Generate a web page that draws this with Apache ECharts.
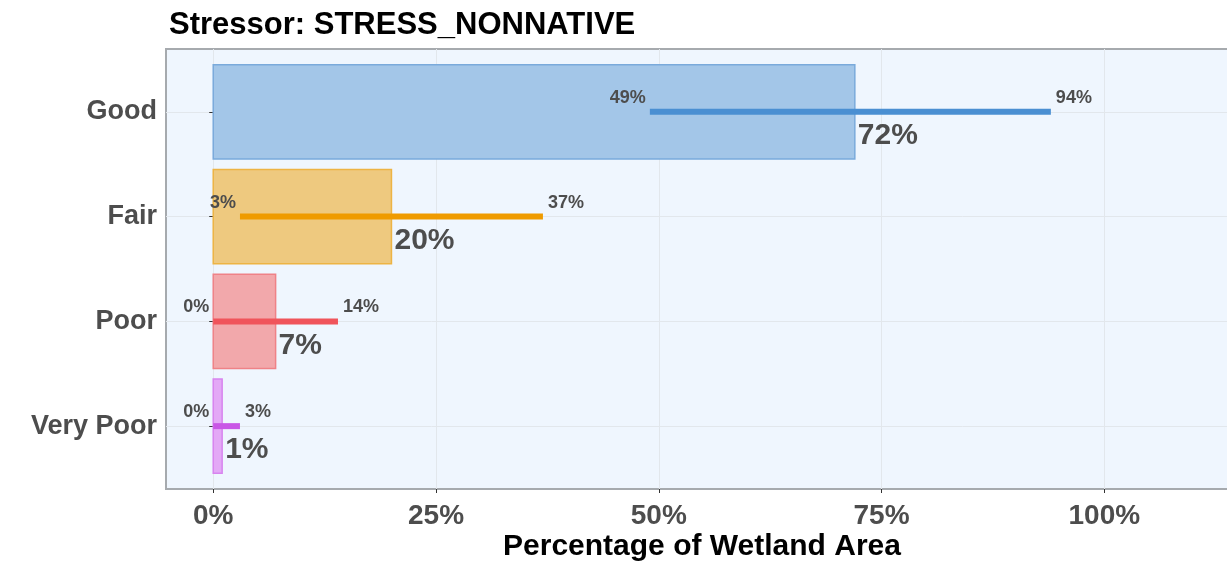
<!DOCTYPE html>
<html>
<head>
<meta charset="utf-8">
<title>Stressor: STRESS_NONNATIVE</title>
<script src="https://cdn.jsdelivr.net/npm/echarts@6/dist/echarts.min.js"></script>
<style>
  html, body { margin: 0; padding: 0; background: #ffffff; }
  #chart { width: 1227px; height: 561px; }
</style>
</head>
<body>
<div id="chart"></div>
<script>
// Condition classes, top to bottom
const categories = ['Good', 'Fair', 'Poor', 'Very Poor'];
// Estimated share of wetland area (%) and its confidence bounds
const estimate = [72, 20, 7, 1];
const lower = [49, 3, 0, 0];
const upper = [94, 37, 14, 3];
// Axis tick values (%)
const xTicks = [0, 25, 50, 75, 100];

// Per-class colours: confidence line, bar fill, bar outline
const lineColors = ['#4a8fd2', '#ef9b00', '#f0545b', '#c957e6'];
const fillColors = ['#a3c6e8', '#eec97f', '#f2a8ab', '#e3a9f6'];
const edgeColors = ['#7aaadb', '#edb444', '#ef8287', '#d884ef'];

const FONT = '"Liberation Sans", Arial, Helvetica, sans-serif';
const TEXT_GREY = '#4d4d4d';

// Category positions on the vertical scale: 1 = top row
const rows = categories.map((c, i) => [i + 1, estimate[i], lower[i], upper[i]]);

const chart = echarts.init(document.getElementById('chart'), null, { renderer: 'canvas' });

function barItem(params, api) {
  const pos = api.value(0);
  const est = api.value(1);
  const a = api.coord([0, pos]);
  const b = api.coord([est, pos]);
  const h = api.size([0, 0.9])[1];
  const i = params.dataIndex;
  return {
    type: 'rect',
    shape: { x: a[0], y: a[1] - h / 2, width: b[0] - a[0], height: h },
    style: { fill: fillColors[i], stroke: edgeColors[i], lineWidth: 1.5 }
  };
}

function ciItem(params, api) {
  const pos = api.value(0);
  const a = api.coord([api.value(2), pos]);
  const b = api.coord([api.value(3), pos]);
  const i = params.dataIndex;
  return {
    type: 'rect',
    shape: { x: a[0], y: a[1] - 3, width: b[0] - a[0], height: 6 },
    style: { fill: lineColors[i] }
  };
}

function labelItem(params, api) {
  const pos = api.value(0);
  const est = api.value(1), lo = api.value(2), hi = api.value(3);
  const pe = api.coord([est, pos]);
  const pl = api.coord([lo, pos]);
  const ph = api.coord([hi, pos]);
  const small = { fontFamily: FONT, fontWeight: 'bold', fontSize: 18, fill: TEXT_GREY };
  return {
    type: 'group',
    children: [
      {
        type: 'text',
        style: Object.assign({ text: lo + '%', x: pl[0] - 4, y: pl[1] - 14, align: 'right', verticalAlign: 'middle' }, small)
      },
      {
        type: 'text',
        style: Object.assign({ text: hi + '%', x: ph[0] + 5, y: ph[1] - 14, align: 'left', verticalAlign: 'middle' }, small)
      },
      {
        type: 'text',
        style: {
          text: est + '%', x: pe[0] + 3, y: pe[1] + 24, align: 'left', verticalAlign: 'middle',
          fontFamily: FONT, fontWeight: 'bold', fontSize: 30, fill: TEXT_GREY
        }
      }
    ]
  };
}

const option = {
  animation: false,
  backgroundColor: '#ffffff',
  title: {
    text: 'Stressor: STRESS_NONNATIVE',
    left: 164,
    top: 5,
    textStyle: { fontFamily: FONT, fontWeight: 'bold', fontSize: 31, color: '#000000' }
  },
  grid: {
    left: 166,
    top: 49,
    right: -11,
    bottom: 72,
    show: true,
    backgroundColor: '#eff6fe',
    borderColor: '#a6aaae',
    borderWidth: 2,
    containLabel: false,
    outerBoundsMode: 'none'
  },
  xAxis: {
    type: 'value',
    min: -5.3,
    max: 115,
    axisLine: { show: false },
    axisTick: { show: true, customValues: xTicks, length: 4, lineStyle: { color: '#333333', width: 1 } },
    axisLabel: {
      customValues: xTicks,
      formatter: v => v + '%',
      margin: 13,
      fontFamily: FONT, fontWeight: 'bold', fontSize: 28, color: TEXT_GREY
    },
    splitLine: { show: true, lineStyle: { color: '#e2e7ec', width: 1 } },
    name: 'Percentage of Wetland Area',
    nameLocation: 'middle',
    nameGap: 43,
    nameMoveOverlap: false,
    nameTextStyle: { fontFamily: FONT, fontWeight: 'bold', fontSize: 30, color: '#000000' }
  },
  yAxis: {
    type: 'value',
    inverse: true,
    min: 0.4,
    max: 4.6,
    axisLine: { show: false },
    axisTick: { show: true, customValues: [1, 2, 3, 4], length: 4, lineStyle: { color: '#333333', width: 1 } },
    axisLabel: {
      customValues: [1, 2, 3, 4],
      formatter: v => categories[Math.round(v) - 1],
      margin: 9,
      fontFamily: FONT, fontWeight: 'bold', fontSize: 27, color: TEXT_GREY
    },
    splitLine: { show: true, lineStyle: { color: '#e2e7ec', width: 1 } }
  },
  series: [
    {
      name: 'estimate',
      type: 'custom',
      renderItem: barItem,
      encode: { x: [1, 2, 3], y: 0 },
      data: rows,
      z: 2
    },
    {
      name: 'interval',
      type: 'custom',
      renderItem: ciItem,
      encode: { x: [1, 2, 3], y: 0 },
      data: rows,
      z: 3
    },
    {
      name: 'labels',
      type: 'custom',
      renderItem: labelItem,
      encode: { x: [1, 2, 3], y: 0 },
      data: rows,
      silent: true,
      z: 4
    }
  ]
};

chart.setOption(option);
</script>
</body>
</html>
